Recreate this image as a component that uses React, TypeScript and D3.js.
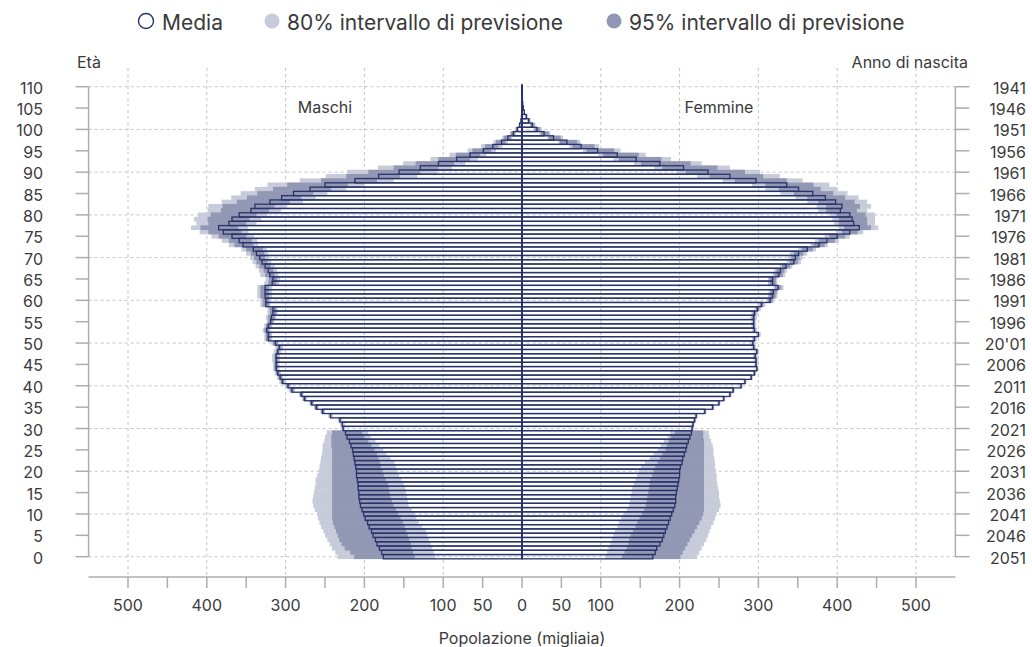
import React from "react";
import * as d3 from "d3";

// ---------- DATA (thousands) ----------
const ages: number[] = d3.range(0, 111);

const maleMedian = [
  176, 178, 181, 184, 186, 189, 191, 194, 196, 199,
  201, 203, 205, 206, 207, 207, 208, 208, 209, 210,
  210, 211, 212, 213, 214, 215, 217, 219, 222, 224,
  227, 228, 231, 243, 253, 261, 267, 276, 280, 292,
  297, 304, 307, 310, 312, 312, 312, 312, 310, 308,
  313, 322, 322, 324, 322, 319, 318, 316, 316, 325,
  325, 326, 326, 326, 317, 316, 320, 322, 326, 330,
  333, 337, 341, 354, 359, 368, 379, 385, 372, 368,
  359, 344, 339, 320, 305, 290, 269, 250, 212, 182,
  156, 129, 106, 83, 66, 49, 37, 26, 18, 11,
  6, 3, 1.3, 0.6, 0.3, 0.15, 0.05, 0.02, 0.01, 0, 0,
];
const maleLightHi = [
  234, 237, 241, 244, 247, 250, 252, 255, 257, 259,
  260, 263, 265, 266, 265, 264, 263, 262, 262, 260,
  258, 257, 256, 255, 254, 253, 253, 251, 250, 248,
  230, 231, 234, 246, 256, 264, 270, 279, 283, 296,
  301, 308, 311, 314, 316, 316, 317, 317, 315, 313,
  318, 327, 327, 329, 327, 324, 325, 323, 323, 332,
  332, 336, 336, 336, 327, 325, 332, 334, 338, 342,
  345, 350, 356, 372, 381, 394, 409, 420, 413, 416,
  411, 399, 398, 381, 369, 357, 339, 323, 282, 249,
  222, 183, 151, 116, 92, 69, 52, 36, 25, 15.4,
  8.4, 4.2, 1.8, 0.8, 0.4, 0.2, 0.07, 0.03, 0.01, 0, 0,
];
const maleDarkHi = [
  213, 218, 225, 229, 232, 234, 236, 238, 240, 241,
  241, 241, 241, 241, 241, 241, 241, 241, 241, 241,
  241, 241, 241, 241, 241, 241, 242, 242, 242, 241,
  228, 229, 232, 244, 255, 263, 269, 278, 282, 294,
  299, 306, 309, 312, 314, 314, 314, 314, 312, 310,
  316, 325, 325, 327, 325, 322, 322, 320, 320, 329,
  329, 332, 332, 332, 322, 321, 326, 328, 333, 337,
  340, 344, 350, 365, 372, 385, 398, 408, 398, 399,
  395, 382, 380, 362, 349, 336, 316, 298, 255, 223,
  195, 163, 135, 106, 84, 63, 47, 33, 23, 14.1,
  7.7, 3.8, 1.7, 0.8, 0.4, 0.2, 0.06, 0.03, 0.01, 0, 0,
];
const maleDarkLo = [
  136, 138, 140, 141, 143, 145, 147, 149, 151, 154,
  157, 160, 163, 165, 167, 168, 169, 170, 173, 175,
  177, 179, 180, 182, 184, 187, 191, 195, 200, 203,
  226, 227, 230, 242, 251, 259, 265, 274, 278, 290,
  295, 302, 305, 308, 310, 310, 310, 310, 308, 306,
  310, 319, 319, 321, 319, 316, 314, 312, 312, 321,
  321, 321, 321, 321, 312, 311, 314, 316, 319, 323,
  326, 327, 329, 341, 343, 350, 356, 360, 350, 346,
  337, 321, 314, 295, 280, 265, 242, 221, 184, 155,
  129, 106, 86, 66, 53, 39, 30, 21, 14.4, 8.8,
  4.8, 2.4, 1, 0.5, 0.2, 0.1, 0.04, 0.02, 0.01, 0, 0,
];
const maleLightLo = [
  110, 112, 114, 116, 118, 120, 122, 127, 131, 134,
  136, 140, 144, 145, 146, 147, 148, 150, 153, 156,
  158, 160, 162, 167, 172, 176, 181, 186, 192, 195,
  224, 225, 228, 240, 250, 258, 264, 273, 277, 288,
  293, 300, 303, 306, 308, 308, 307, 307, 305, 303,
  308, 317, 317, 319, 317, 314, 312, 310, 310, 319,
  319, 317, 317, 317, 308, 307, 309, 311, 314, 318,
  321, 322, 324, 335, 336, 340, 347, 348, 337, 331,
  323, 306, 298, 278, 262, 247, 223, 200, 163, 133,
  108, 89, 72, 56, 45, 33, 25, 18, 12.2, 7.5,
  4.1, 2, 0.9, 0.4, 0.2, 0.1, 0.03, 0.01, 0.01, 0, 0,
];

const femaleMedian = [
  166, 169, 171, 175, 178, 180, 182, 184, 186, 188,
  190, 192, 194, 195, 195, 196, 197, 198, 199, 200,
  200, 201, 203, 204, 206, 208, 209, 211, 213, 215,
  216, 217, 219, 221, 232, 242, 250, 256, 264, 268,
  278, 283, 291, 295, 298, 297, 297, 296, 298, 294,
  293, 295, 300, 295, 294, 294, 294, 295, 299, 304,
  315, 318, 319, 325, 318, 318, 326, 328, 335, 345,
  347, 351, 362, 377, 387, 400, 416, 428, 421, 419,
  416, 404, 406, 398, 385, 369, 351, 336, 297, 264,
  236, 205, 175, 145, 121, 96, 75, 57, 40, 28,
  19, 13, 8.5, 5.5, 3, 1.7, 0.9, 0.5, 0.2, 0.1, 0.05,
];
const femaleLightHi = [
  222, 225, 228, 231, 234, 236, 238, 240, 243, 245,
  247, 250, 252, 251, 250, 250, 249, 248, 247, 247,
  246, 245, 245, 244, 243, 243, 242, 240, 238, 237,
  218, 219, 221, 223, 234, 244, 252, 258, 266, 270,
  280, 285, 293, 297, 300, 299, 300, 299, 301, 297,
  296, 298, 303, 298, 297, 297, 298, 299, 303, 309,
  320, 324, 325, 332, 324, 324, 334, 336, 343, 354,
  356, 362, 373, 388, 402, 416, 433, 452, 448, 448,
  448, 438, 443, 438, 427, 413, 400, 390, 356, 327,
  302, 264, 228, 189, 157, 125, 98, 74, 52, 36,
  25, 17, 11, 7.2, 3.9, 2.2, 1.2, 0.65, 0.26, 0.13, 0.07,
];
const femaleDarkHi = [
  201, 204, 207, 210, 213, 216, 219, 222, 225, 228,
  230, 231, 231, 231, 231, 231, 231, 231, 231, 231,
  231, 231, 231, 231, 231, 231, 231, 231, 230, 230,
  217, 218, 220, 222, 233, 243, 251, 257, 265, 269,
  279, 284, 292, 296, 299, 298, 298, 297, 299, 295,
  294, 296, 301, 296, 295, 295, 296, 297, 301, 306,
  318, 322, 323, 329, 322, 322, 331, 333, 340, 350,
  352, 357, 369, 384, 397, 410, 426, 443, 438, 438,
  436, 425, 429, 422, 410, 395, 379, 370, 336, 306,
  283, 248, 214, 177, 148, 117, 92, 70, 49, 34,
  23, 16, 10.4, 6.7, 3.7, 2.1, 1.1, 0.6, 0.24, 0.12, 0.06,
];
const femaleDarkLo = [
  127, 130, 133, 135, 136, 138, 141, 144, 146, 149,
  152, 155, 157, 158, 159, 160, 161, 162, 163, 165,
  167, 169, 172, 175, 178, 182, 184, 186, 189, 194,
  215, 216, 218, 220, 231, 241, 249, 255, 263, 267,
  277, 282, 290, 294, 297, 296, 296, 295, 297, 293,
  292, 294, 299, 294, 293, 293, 292, 293, 297, 302,
  312, 314, 315, 321, 314, 314, 321, 323, 330, 340,
  342, 345, 355, 370, 377, 390, 406, 409, 402, 402,
  399, 386, 386, 376, 362, 345, 326, 309, 270, 238,
  208, 178, 151, 123, 103, 82, 64, 48, 34, 24,
  16, 11, 7.2, 4.7, 2.6, 1.4, 0.8, 0.4, 0.17, 0.08, 0.04,
];
const femaleLightLo = [
  106, 108, 110, 112, 114, 116, 118, 121, 123, 126,
  129, 133, 136, 137, 138, 139, 140, 142, 144, 146,
  148, 151, 156, 162, 167, 172, 176, 180, 185, 188,
  214, 215, 217, 219, 230, 240, 248, 254, 262, 266,
  276, 281, 289, 293, 296, 295, 294, 293, 295, 291,
  290, 292, 297, 292, 291, 291, 290, 291, 295, 299,
  310, 312, 313, 319, 312, 312, 318, 320, 327, 336,
  338, 340, 351, 366, 372, 384, 399, 402, 396, 394,
  391, 376, 374, 362, 347, 328, 309, 292, 255, 222,
  196, 168, 142, 116, 97, 77, 60, 46, 32, 22,
  15, 10, 6.8, 4.4, 2.4, 1.4, 0.7, 0.4, 0.16, 0.08, 0.04,
];

const ageTicks = [0, 5, 10, 15, 20, 25, 30, 35, 40, 45, 50, 55, 60, 65, 70, 75, 80, 85, 90, 95, 100, 105, 110];
const birthYearLabels = [
  "2051", "2046", "2041", "2036", "2031", "2026", "2021", "2016", "2011", "2006",
  "20'01", "1996", "1991", "1986", "1981", "1976", "1971", "1966", "1961", "1956",
  "1951", "1946", "1941",
];
const ageGrid = [0, 10, 20, 30, 40, 50, 60, 70, 80, 90, 100, 110];
const xGrid = [-500, -400, -300, -200, -100, 100, 200, 300, 400, 500];
const xTicks = [-500, -450, -400, -350, -300, -250, -200, -150, -100, -50, 0, 50, 100, 150, 200, 250, 300, 350, 400, 450, 500];
const xTickLabels = [-500, -400, -300, -200, -100, -50, 0, 50, 100, 200, 300, 400, 500];
const legendItems = ["Media", "80% intervallo di previsione", "95% intervallo di previsione"];

// ---------- STYLE ----------
const NAVY = "#27336a";
const LIGHT = "#c8cbd9";
const DARK = "#9297b3";
const GRID = "#c4c4c4";
const AXIS = "#adadad";
const TEXT = "#3a3a3a";
const FONT = "Inter, 'Noto Sans', sans-serif";

export default function App() {
  const W = 1032;
  const H = 647;
  const x = d3.scaleLinear().domain([-550, 550]).range([88.6, 955.4]);
  const y = d3.scaleLinear().domain([0, 110]).range([556.7, 86.7]);
  const step = y(0) - y(1);
  const axisY = 577;

  const bandRect = (key: string, sign: number, lo: number, hi: number, age: number, fill: string) => {
    const x1 = x(sign * lo);
    const x2 = x(sign * hi);
    const left = Math.min(x1, x2);
    const w = Math.abs(x2 - x1);
    if (w <= 0) return null;
    return (
      <rect key={key} x={left} y={y(age) - step / 2 - 0.25} width={w} height={step + 0.5} fill={fill} />
    );
  };

  const medianRect = (key: string, sign: number, v: number, age: number) => {
    const x1 = x(0);
    const x2 = x(sign * v);
    const left = Math.min(x1, x2);
    const w = Math.abs(x2 - x1);
    return (
      <rect key={key} x={left} y={y(age) - step / 2} width={w} height={step}
        fill="none" stroke={NAVY} strokeWidth={1.3} />
    );
  };

  return (
    <svg width={W} height={H} style={{ position: "absolute", left: 0, top: 0, background: "#fff" }}
      fontFamily={FONT}>
      {/* legend */}
      <g fontSize={21} fill={TEXT}>
        <circle cx={146} cy={21} r={7.5} fill="#fff" stroke={NAVY} strokeWidth={1.4} />
        <text x={162} y={22} dominantBaseline="central">{legendItems[0]}</text>
        <circle cx={272} cy={21} r={7.5} fill={LIGHT} />
        <text x={287} y={22} dominantBaseline="central">{legendItems[1]}</text>
        <circle cx={614} cy={21} r={7.5} fill={DARK} />
        <text x={629} y={22} dominantBaseline="central">{legendItems[2]}</text>
      </g>

      {/* grid */}
      <g stroke={GRID} strokeWidth={1} strokeDasharray="3,3">
        {ageGrid.map((a) => (
          <line key={"hg" + a} x1={x(-550)} x2={x(550)} y1={y(a)} y2={y(a)} />
        ))}
        {xGrid.map((v) => (
          <line key={"vg" + v} x1={x(v)} x2={x(v)} y1={68} y2={axisY} />
        ))}
      </g>

      {/* bands */}
      <g>
        {ages.map((a) => bandRect("ml" + a, -1, maleLightLo[a], maleLightHi[a], a, LIGHT))}
        {ages.map((a) => bandRect("fl" + a, 1, femaleLightLo[a], femaleLightHi[a], a, LIGHT))}
        {ages.map((a) => bandRect("md" + a, -1, maleDarkLo[a], maleDarkHi[a], a, DARK))}
        {ages.map((a) => bandRect("fd" + a, 1, femaleDarkLo[a], femaleDarkHi[a], a, DARK))}
      </g>

      {/* medians */}
      <g>
        {ages.map((a) => medianRect("mm" + a, -1, maleMedian[a], a))}
        {ages.map((a) => medianRect("fm" + a, 1, femaleMedian[a], a))}
      </g>
      <line x1={x(0)} x2={x(0)} y1={y(110) - 2} y2={y(0) + step / 2} stroke={NAVY} strokeWidth={2} />

      {/* axes */}
      <g stroke={AXIS} strokeWidth={1.5}>
        <line x1={x(-550)} x2={x(-550)} y1={y(110)} y2={y(0)} />
        {ageTicks.map((a) => (
          <line key={"lt" + a} x1={x(-550) - 13} x2={x(-550)} y1={y(a)} y2={y(a)} />
        ))}
        <line x1={x(550)} x2={x(550)} y1={y(110)} y2={y(0)} />
        {ageTicks.map((a) => (
          <line key={"rt" + a} x1={x(550)} x2={x(550) + 14} y1={y(a)} y2={y(a)} />
        ))}
        <line x1={x(-550)} x2={x(550)} y1={axisY} y2={axisY} />
        {xTicks.map((v) => (
          <line key={"bt" + v} x1={x(v)} x2={x(v)} y1={axisY} y2={axisY + 11} />
        ))}
      </g>
      <g fontSize={16} fill={TEXT}>
        {ageTicks.map((a) => (
          <text key={"ll" + a} x={43} y={y(a) + 1} textAnchor="end" dominantBaseline="central">{a}</text>
        ))}
        {ageTicks.map((a, i) => (
          <text key={"rl" + a} x={1026} y={y(a) + 1} textAnchor="end" dominantBaseline="central">{birthYearLabels[i]}</text>
        ))}
        {xTickLabels.map((v) => (
          <text key={"bl" + v} x={x(v)} y={605} textAnchor="middle" dominantBaseline="central">{Math.abs(v)}</text>
        ))}
        <text x={x(0)} y={638} textAnchor="middle" dominantBaseline="central">Popolazione (migliaia)</text>
        <text x={77} y={62} dominantBaseline="central">Età</text>
        <text x={968} y={62} textAnchor="end" dominantBaseline="central">Anno di nascita</text>
        <text x={x(-250)} y={107} textAnchor="middle" dominantBaseline="central">Maschi</text>
        <text x={x(250)} y={107} textAnchor="middle" dominantBaseline="central">Femmine</text>
      </g>
    </svg>
  );
}
